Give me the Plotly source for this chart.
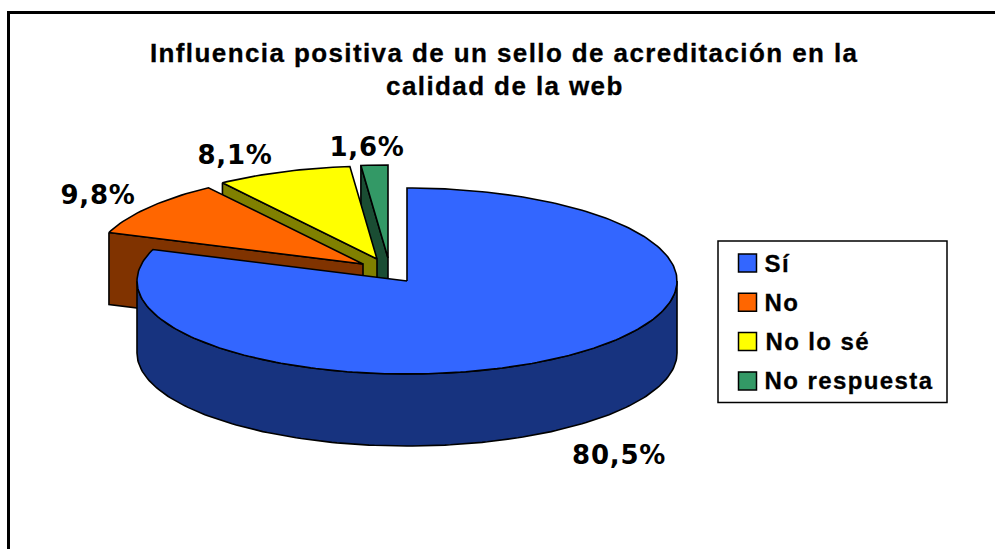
import numpy as np
import plotly.graph_objects as go

categories = ["Sí", "No", "No lo sé", "No respuesta"]
values = [80.5, 9.8, 8.1, 1.6]

top_colors = ["#3366FF", "#FF6600", "#FFFF00", "#339966"]
side_colors = ["#17337F", "#803300", "#808000", "#1A4D33"]

W, H = 995, 549
CX, CY, RX, RY, DEPTH = 407, 281, 270, 93, 72
apex_offsets = [(0, 0), (-44, -17), (-30, -22), (-19, -23)]
label_pos = [(619, 455), (98, 195), (235, 155), (367, 147)]
SANS_SPACING, DEJAVU_SPACING = 1.4, 0.8

fracs = np.array(values) / sum(values) * 2 * np.pi
ends = np.cumsum(fracs)
starts = ends - fracs


def rim(a0, a1, ox=0, oy=0, dy=0, step=0.02):
    n = max(int(abs(a1 - a0) / step), 2)
    t = np.linspace(a0, a1, n)
    return CX + ox + RX * np.sin(t), CY + oy + dy - RY * np.cos(t)


fig = go.Figure()


def poly(x, y, color):
    fig.add_trace(go.Scatter(
        x=list(x) + [x[0]], y=list(y) + [y[0]], mode="lines", fill="toself",
        fillcolor=color, line=dict(color="black", width=1.6),
        hoverinfo="skip", showlegend=False))


def cut_face(i, angle):
    ox, oy = apex_offsets[i]
    ex, ey = rim(angle, angle, ox, oy)
    ax, ay = CX + ox, CY + oy
    poly([ex[0], ax, ax, ex[0]], [ey[0], ay, ay + DEPTH, ey[0] + DEPTH], side_colors[i])


def top_face(i):
    ox, oy = apex_offsets[i]
    rx, ry = rim(starts[i], ends[i], ox, oy)
    poly([CX + ox] + list(rx), [CY + oy] + list(ry), top_colors[i])


# back-to-front painter's order: green, yellow, orange, blue
cut_face(3, starts[3])
top_face(3)
cut_face(2, starts[2])
top_face(2)
cut_face(1, starts[1])
top_face(1)

# blue front wall
wx0, wy0 = rim(np.pi / 2, 3 * np.pi / 2)
wx1, wy1 = rim(3 * np.pi / 2, np.pi / 2, dy=DEPTH)
poly(list(wx0) + list(wx1), list(wy0) + list(wy1), side_colors[0])
top_face(0)

# legend swatches
LEG_X, LEG_Y0, LEG_DY = 747.5, 263, 39.3
leg_y = [LEG_Y0 + k * LEG_DY for k in range(len(categories))]
fig.add_trace(go.Scatter(
    x=[LEG_X] * len(categories), y=leg_y, mode="markers",
    marker=dict(symbol="square", size=18, color=top_colors, line=dict(color="black", width=1.5)),
    hoverinfo="skip", showlegend=False))

annotations = []
for name, y in zip(categories, leg_y):
    # letter-spacing is added after Plotly centres the text, so compensate half of it here
    annotations.append(dict(x=763, xshift=len(name) * SANS_SPACING / 2, y=y, xref="x", yref="y",
                            text=f"<b>{name}</b>", showarrow=False, xanchor="left", yanchor="middle",
                            font=dict(family="Liberation Sans", size=24, color="black")))

for v, (lx, ly) in zip(values, label_pos):
    txt = f"{v:.1f}".replace(".", ",") + "%"
    annotations.append(dict(x=lx, y=ly, xref="x", yref="y", text=f"<b>{txt}</b>", showarrow=False,
                            xanchor="center", yanchor="middle",
                            font=dict(family="DejaVu Sans", size=26, color="black")))

title_lines = ["Influencia positiva de un sello de acreditación en la", "calidad de la web"]
for line, y in zip(title_lines, [53, 86]):
    annotations.append(dict(x=504.5, y=y, xref="x", yref="y", text=f"<b>{line}</b>", showarrow=False,
                            xanchor="center", yanchor="middle",
                            font=dict(family="Liberation Sans", size=26, color="black")))

shapes = [
    dict(type="line", xref="x", yref="y", x0=8.5, y0=12.5, x1=W + 5, y1=12.5, line=dict(color="black", width=3)),
    dict(type="line", xref="x", yref="y", x0=8.5, y0=11, x1=8.5, y1=H + 5, line=dict(color="black", width=3)),
    dict(type="rect", xref="x", yref="y", x0=718, y0=241, x1=947, y1=402.5,
         line=dict(color="black", width=1.5), fillcolor="white", layer="below"),
]

fig.update_layout(
    width=W, height=H, margin=dict(l=0, r=0, t=0, b=0, pad=0),
    paper_bgcolor="white", plot_bgcolor="white", showlegend=False,
    xaxis=dict(range=[0, W], visible=False, fixedrange=True),
    yaxis=dict(range=[H, 0], visible=False, fixedrange=True),
    annotations=annotations, shapes=shapes,
)
post = f"""
document.body.style.margin='0';
document.documentElement.style.overflow='hidden';
var s=document.createElement('style');
s.textContent='.annotation-text[style*="Liberation"]{{letter-spacing:{SANS_SPACING}px;stroke:black;stroke-width:0.3px}}'
 +'.annotation-text[style*="DejaVu"]{{letter-spacing:{DEJAVU_SPACING}px}}';
document.head.appendChild(s);
"""
fig.write_html("out.html", config={"displayModeBar": False}, post_script=post)
